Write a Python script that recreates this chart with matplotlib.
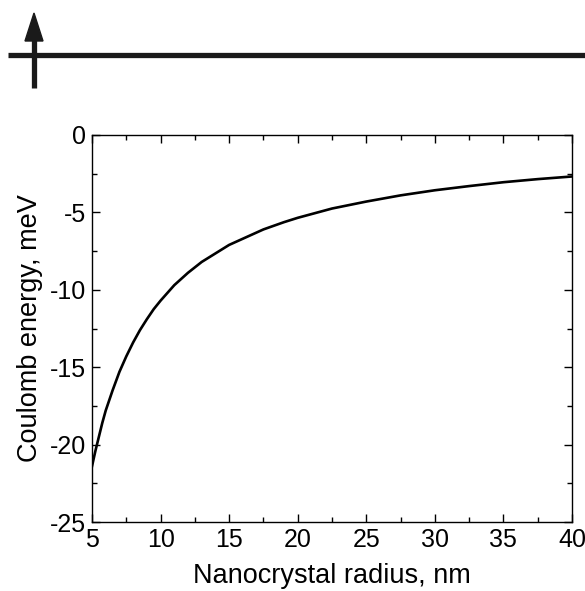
import matplotlib
matplotlib.use("Agg")
import matplotlib.pyplot as plt
from matplotlib.lines import Line2D
from matplotlib.patches import Polygon
from matplotlib.ticker import MultipleLocator

# Coulomb energy
radius = [5, 5.25, 5.5, 5.75, 6, 6.5, 7, 7.5, 8, 8.5, 9, 9.5, 10, 11, 12, 13, 14, 15,
          16, 17.5, 19, 20, 22.5, 25, 27.5, 30, 32.5, 35, 37.5, 40]
energy = [-21.4, -20.4, -19.5, -18.6, -17.8, -16.5, -15.3, -14.3, -13.4, -12.6,
          -11.9, -11.25, -10.7, -9.7, -8.9, -8.2, -7.65, -7.1, -6.7, -6.1, -5.63,
          -5.35, -4.75, -4.3, -3.9, -3.57, -3.3, -3.05, -2.85, -2.68]

xticks = [5, 10, 15, 20, 25, 30, 35, 40]
yticks = [0, -5, -10, -15, -20, -25]

plt.rcParams['font.family'] = ['Liberation Sans', 'DejaVu Sans']

W, H = 585, 591
fig = plt.figure(figsize=(W / 100, H / 100), dpi=100)

# decoration at the top: horizontal bar with an arrow
def px(x, y):
    return (x / W, 1 - y / H)

fig.add_artist(Line2D([8 / W, 1.0], [1 - 55 / H, 1 - 55 / H], color='#1a1a1a',
                      lw=3.8, transform=fig.transFigure, solid_capstyle='butt'))
fig.add_artist(Line2D([34 / W, 34 / W], [1 - 88 / H, 1 - 40 / H], color='#1a1a1a',
                      lw=3.8, transform=fig.transFigure, solid_capstyle='butt'))
fig.add_artist(Polygon([px(25, 41), px(43, 41), px(34, 13)], closed=True,
                       color='#1a1a1a', transform=fig.transFigure))

ax = fig.add_axes([92 / W, 1 - 522 / H, (572 - 92) / W, (522 - 135) / H])
ax.plot(radius, energy, color='black', lw=1.9)

ax.set_xlim(5, 40)
ax.set_ylim(-25, 0)
ax.set_xticks(xticks)
ax.set_yticks(yticks)
ax.set_yticklabels([str(v) for v in yticks])
ax.xaxis.set_minor_locator(MultipleLocator(2.5))
ax.yaxis.set_minor_locator(MultipleLocator(2.5))
ax.tick_params(which='both', direction='in', top=True, right=True, width=1)
ax.tick_params(which='major', length=6, labelsize=18, pad=4)
ax.tick_params(which='minor', length=3.5)
for s in ax.spines.values():
    s.set_linewidth(1)

ax.set_xlabel("Nanocrystal radius, nm", fontsize=19.5, labelpad=8)
ax.set_ylabel("Coulomb energy, meV", fontsize=19.5, labelpad=5)

fig.savefig("out.png", dpi=100)
